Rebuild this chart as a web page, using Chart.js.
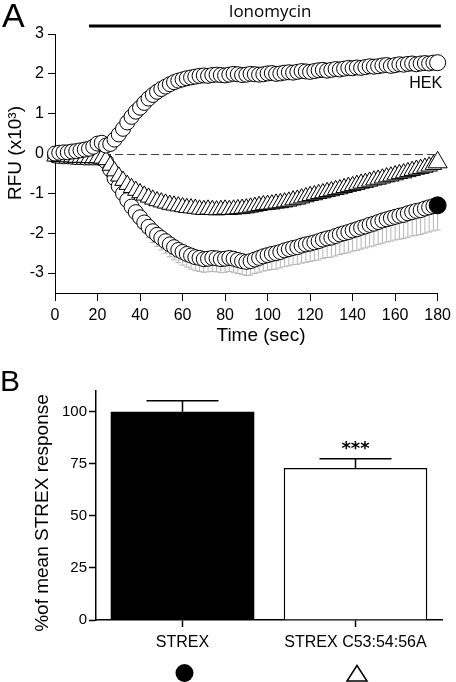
<!DOCTYPE html>
<html><head><meta charset="utf-8">
<script src="https://cdn.jsdelivr.net/npm/chart.js@4.4.1/dist/chart.umd.min.js"></script>
<style>
html,body{margin:0;padding:0;background:#fff;width:456px;height:682px;overflow:hidden;}
#ca{position:absolute;left:0;top:0;}
#cb{position:absolute;left:0;top:360px;}
</style></head><body>
<canvas id="ca" width="456" height="352"></canvas>
<canvas id="cb" width="456" height="322"></canvas>
<script>
// ---------- Panel A data ----------
const times = [0,2,4,6,8,10,12,14,16,18,20,22,24,26,28,30,32,34,36,38,40,42,44,46,48,50,52,54,56,58,60,62,64,66,68,70,72,74,76,78,80,82,84,86,88,90,92,94,96,98,100,102,104,106,108,110,112,114,116,118,120,122,124,126,128,130,132,134,136,138,140,142,144,146,148,150,152,154,156,158,160,162,164,166,168,170,172,174,176,178,180];
const hekValues = [
 0.00,0.02,0.03,0.03,0.05,0.06,0.08,0.10,0.12,0.17,
 0.25,0.27,0.20,0.24,0.35,0.48,0.62,0.78,0.92,1.05,
 1.15,1.27,1.38,1.47,1.55,1.62,1.68,1.74,1.79,1.83,
 1.86,1.89,1.91,1.93,1.95,1.96,1.95,1.97,1.98,1.97,
 1.96,1.98,2.00,1.99,1.97,1.98,2.00,1.99,1.98,1.99,
 2.01,2.02,2.00,2.01,2.03,2.04,2.03,2.05,2.07,2.06,
 2.05,2.07,2.09,2.10,2.08,2.10,2.12,2.11,2.13,2.15,
 2.14,2.16,2.15,2.17,2.19,2.18,2.19,2.21,2.22,2.20,
 2.22,2.24,2.23,2.25,2.26,2.24,2.26,2.27,2.26,2.28,
 2.28];
const hekErr = [
 0.05,0.05,0.05,0.05,0.05,0.05,0.06,0.06,0.06,0.07,
 0.08,0.08,0.09,0.10,0.12,0.14,0.16,0.18,0.19,0.20,
 0.20,0.20,0.20,0.19,0.18,0.17,0.16,0.15,0.14,0.13,
 0.12,0.12,0.11,0.11,0.10,0.10,0.10,0.10,0.10,0.10,
 0.10,0.10,0.11,0.10,0.10,0.10,0.11,0.10,0.10,0.10,
 0.10,0.11,0.10,0.10,0.11,0.10,0.10,0.11,0.10,0.10,
 0.11,0.10,0.10,0.11,0.10,0.10,0.11,0.10,0.10,0.11,
 0.10,0.10,0.11,0.10,0.10,0.11,0.10,0.10,0.11,0.10,
 0.10,0.11,0.10,0.10,0.11,0.10,0.10,0.11,0.10,0.10,
 0.10];
const strexValues = [
 -0.05,-0.06,-0.07,-0.07,-0.08,-0.09,-0.09,-0.10,-0.10,-0.10,
 -0.10,-0.12,-0.20,-0.40,-0.62,-0.82,-1.00,-1.17,-1.33,-1.47,
 -1.60,-1.73,-1.84,-1.95,-2.04,-2.12,-2.20,-2.28,-2.35,-2.42,
 -2.47,-2.52,-2.56,-2.60,-2.62,-2.65,-2.64,-2.62,-2.63,-2.65,
 -2.64,-2.62,-2.64,-2.67,-2.70,-2.72,-2.70,-2.66,-2.62,-2.58,
 -2.55,-2.52,-2.50,-2.47,-2.43,-2.40,-2.37,-2.35,-2.31,-2.28,
 -2.26,-2.23,-2.20,-2.16,-2.13,-2.11,-2.07,-2.03,-2.00,-1.97,
 -1.93,-1.90,-1.86,-1.83,-1.79,-1.76,-1.72,-1.68,-1.65,-1.62,
 -1.59,-1.56,-1.54,-1.50,-1.47,-1.44,-1.42,-1.38,-1.35,-1.32,
 -1.30];
const strexErr = [
 0.05,0.05,0.05,0.05,0.05,0.05,0.05,0.05,0.05,0.05,
 0.06,0.08,0.10,0.12,0.14,0.16,0.18,0.20,0.22,0.24,
 0.25,0.26,0.27,0.28,0.29,0.30,0.30,0.31,0.32,0.32,
 0.33,0.33,0.34,0.34,0.34,0.33,0.33,0.34,0.34,0.34,
 0.34,0.34,0.34,0.34,0.34,0.34,0.35,0.35,0.36,0.37,
 0.38,0.39,0.40,0.40,0.41,0.42,0.42,0.43,0.44,0.45,
 0.45,0.46,0.47,0.47,0.48,0.49,0.50,0.50,0.51,0.52,
 0.52,0.53,0.54,0.54,0.55,0.56,0.56,0.57,0.57,0.58,
 0.58,0.59,0.59,0.60,0.60,0.61,0.61,0.62,0.62,0.62,
 0.62];
const mutValues = [
 -0.07,-0.08,-0.08,-0.09,-0.09,-0.10,-0.10,-0.10,-0.11,-0.11,
 -0.11,-0.12,-0.16,-0.30,-0.44,-0.57,-0.68,-0.78,-0.86,-0.93,
 -0.99,-1.05,-1.10,-1.15,-1.19,-1.22,-1.25,-1.28,-1.30,-1.32,
 -1.34,-1.36,-1.37,-1.38,-1.40,-1.41,-1.40,-1.41,-1.42,-1.41,
 -1.40,-1.41,-1.40,-1.39,-1.38,-1.37,-1.35,-1.33,-1.31,-1.29,
 -1.28,-1.27,-1.25,-1.24,-1.22,-1.20,-1.17,-1.15,-1.12,-1.09,
 -1.06,-1.04,-1.01,-0.99,-0.96,-0.94,-0.91,-0.89,-0.86,-0.83,
 -0.81,-0.78,-0.75,-0.73,-0.70,-0.67,-0.65,-0.62,-0.59,-0.57,
 -0.54,-0.51,-0.49,-0.46,-0.43,-0.40,-0.38,-0.35,-0.32,-0.28,
 -0.22];
const mutErr = [
 0.06,0.07,0.07,0.06,0.07,0.08,0.07,0.07,0.08,0.07,
 0.07,0.07,0.06,0.06,0.06,0.07,0.07,0.08,0.08,0.08,
 0.08,0.09,0.09,0.09,0.09,0.10,0.10,0.10,0.10,0.10,
 0.10,0.11,0.10,0.11,0.10,0.11,0.10,0.11,0.10,0.11,
 0.10,0.11,0.10,0.11,0.10,0.11,0.10,0.11,0.10,0.11,
 0.10,0.11,0.10,0.11,0.10,0.11,0.10,0.11,0.10,0.11,
 0.10,0.11,0.10,0.11,0.10,0.11,0.10,0.11,0.10,0.11,
 0.10,0.11,0.10,0.11,0.10,0.11,0.10,0.11,0.10,0.11,
 0.10,0.11,0.10,0.11,0.10,0.11,0.10,0.11,0.10,0.11,
 0.10];
const xTicksA = [0,20,40,60,80,100,120,140,160,180];
const yTicksA = [-3,-2,-1,0,1,2,3];
const ionomycinStart = 16, ionomycinEnd = 181.5;

// ---------- Panel B data ----------
const barCategories = ['STREX', 'STREX C53:54:56A'];
const barMeans = [100, 73];
const barErrs = [5.3, 4.4];
const yTicksB = [0, 25, 50, 75, 100];

const FONT = "'Liberation Sans', Arial, sans-serif";
Chart.defaults.font.family = FONT;
Chart.defaults.color = '#000';

function pts(vals) { return times.map((t, i) => ({x: t, y: vals[i]})); }
const lastIdx = times.length - 1;
function arr(v, last) { return times.map((_, i) => i === lastIdx ? last : v); }

const panelAPlugin = {
  id: 'panelA',
  beforeDatasetsDraw(chart) {
    const {ctx, chartArea, scales: {x, y}} = chart;
    ctx.save();
    // dashed zero line
    ctx.strokeStyle = '#444'; ctx.lineWidth = 1; ctx.setLineDash([8, 4]);
    const y0 = Math.round(y.getPixelForValue(0)) + 0.5;
    ctx.beginPath(); ctx.moveTo(chartArea.left, y0); ctx.lineTo(chartArea.right, y0); ctx.stroke();
    ctx.setLineDash([]);
    const cap = 3;
    function bar(t, lo, hi, color, capLo, capHi) {
      const px = x.getPixelForValue(t);
      const pl = y.getPixelForValue(lo), ph = y.getPixelForValue(hi);
      ctx.strokeStyle = color;
      ctx.beginPath(); ctx.moveTo(px, pl); ctx.lineTo(px, ph);
      if (capLo) { ctx.moveTo(px - cap, pl); ctx.lineTo(px + cap, pl); }
      if (capHi) { ctx.moveTo(px - cap, ph); ctx.lineTo(px + cap, ph); }
      ctx.stroke();
    }
    ctx.lineWidth = 1;
    times.forEach((t, i) => {
      bar(t, strexValues[i] - strexErr[i], strexValues[i], '#b4b4b4', true, false);
      bar(t, hekValues[i] - hekErr[i], hekValues[i] + hekErr[i], '#b4b4b4', true, true);
      bar(t, mutValues[i] - mutErr[i], mutValues[i], '#222', true, false);
    });
    ctx.restore();
  },
  afterDraw(chart) {
    const {ctx, chartArea, scales: {x, y}} = chart;
    ctx.save();
    ctx.fillStyle = '#000';
    // panel letter
    ctx.font = `34px ${FONT}`; ctx.textAlign = 'left'; ctx.textBaseline = 'alphabetic';
    ctx.fillText('A', 2, 27);
    // Ionomycin bar
    ctx.fillRect(x.getPixelForValue(ionomycinStart), 24.5, x.getPixelForValue(ionomycinEnd) - x.getPixelForValue(ionomycinStart), 3);
    ctx.font = `17px 'Open Sans', ${FONT}`; ctx.textAlign = 'center'; ctx.textBaseline = 'middle';
    ctx.fillText('Ionomycin', 270, 12);
    // HEK label
    ctx.font = `16px ${FONT}`;
    ctx.fillText('HEK', x.getPixelForValue(180) - 12, y.getPixelForValue(hekValues[lastIdx]) + 21);
    // axis titles
    ctx.font = `19px ${FONT}`;
    ctx.fillText('Time (sec)', 261, 336);
    ctx.translate(16, 153); ctx.rotate(-Math.PI / 2);
    ctx.fillText('RFU (x10³)', 0, 0);
    ctx.restore();
  }
};

new Chart(document.getElementById('ca'), {
  type: 'scatter',
  data: {
    datasets: [
      { label: 'HEK', data: pts(hekValues), pointStyle: 'circle',
        pointRadius: arr(7.5, 8), pointBackgroundColor: '#fff', pointBorderColor: '#000', pointBorderWidth: 1, clip: false },
      { label: 'STREX C53:54:56A', data: pts(mutValues), pointStyle: 'triangle',
        pointRadius: arr(9.5, 11), pointBackgroundColor: '#fff', pointBorderColor: '#000', pointBorderWidth: 1, clip: false },
      { label: 'STREX', data: pts(strexValues), pointStyle: 'circle',
        pointRadius: arr(7.5, 8.5), pointBackgroundColor: arr('#fff', '#000'), pointBorderColor: '#000', pointBorderWidth: 1, clip: false }
    ]
  },
  options: {
    responsive: false, animation: false,
    layout: { padding: { top: 34, right: 13, left: 0, bottom: 0 } },
    plugins: { legend: { display: false }, tooltip: { enabled: false } },
    scales: {
      x: { type: 'linear', min: 0, max: 180,
        afterBuildTicks: s => { s.ticks = xTicksA.map(v => ({value: v})); },
        afterFit: s => { s.height = 59; },
        ticks: { font: { size: 16 }, padding: 5, maxRotation: 0, autoSkip: false },
        grid: { display: true, drawOnChartArea: false, drawTicks: true, tickLength: 8, tickColor: '#000', tickWidth: 1 },
        border: { display: true, color: '#000', width: 1 } },
      y: { type: 'linear', min: -3.5, max: 3,
        afterBuildTicks: s => { s.ticks = yTicksA.map(v => ({value: v})); },
        afterFit: s => { s.width = 55; },
        ticks: { font: { size: 16 }, padding: 4 },
        grid: { display: true, drawOnChartArea: false, drawTicks: true, tickLength: 7, tickColor: '#000', tickWidth: 1 },
        border: { display: true, color: '#000', width: 1 } }
    }
  },
  plugins: [panelAPlugin]
});

const panelBPlugin = {
  id: 'panelB',
  afterDatasetsDraw(chart) {
    const {ctx, scales: {x, y}} = chart;
    ctx.save();
    ctx.strokeStyle = '#000'; ctx.lineWidth = 1.5;
    barMeans.forEach((m, i) => {
      const px = x.getPixelForValue(i);
      const pt = y.getPixelForValue(m), pe = y.getPixelForValue(m + barErrs[i]);
      ctx.beginPath(); ctx.moveTo(px, pt); ctx.lineTo(px, pe);
      ctx.moveTo(px - 36, pe); ctx.lineTo(px + 36, pe); ctx.stroke();
    });
    // significance stars
    ctx.fillStyle = '#000';
    ctx.font = `bold 18px 'DejaVu Sans', ${FONT}`; ctx.textAlign = 'center'; ctx.textBaseline = 'alphabetic';
    ctx.fillText('***', x.getPixelForValue(1), y.getPixelForValue(barMeans[1] + barErrs[1]) - 5);
    ctx.restore();
  },
  afterDraw(chart) {
    const {ctx, scales: {x}} = chart;
    ctx.save();
    ctx.fillStyle = '#000';
    ctx.font = `30px ${FONT}`; ctx.textAlign = 'left'; ctx.textBaseline = 'alphabetic';
    ctx.fillText('B', 0, 31);
    // y title
    ctx.font = `19px ${FONT}`; ctx.textAlign = 'center'; ctx.textBaseline = 'middle';
    ctx.save(); ctx.translate(43, 153); ctx.rotate(-Math.PI / 2);
    ctx.fillText('%of mean STREX response', 0, 0); ctx.restore();
    // symbols under categories
    const cx0 = x.getPixelForValue(0) + 2;
    ctx.beginPath(); ctx.arc(cx0, 313, 9, 0, Math.PI * 2); ctx.fill();
    const cx1 = x.getPixelForValue(1) + 1.5;
    ctx.strokeStyle = '#000'; ctx.lineWidth = 1.5;
    ctx.beginPath(); ctx.moveTo(cx1, 305.5); ctx.lineTo(cx1 + 10, 321); ctx.lineTo(cx1 - 10, 321); ctx.closePath(); ctx.stroke();
    ctx.restore();
  }
};

new Chart(document.getElementById('cb'), {
  type: 'bar',
  data: {
    labels: barCategories,
    datasets: [{ data: barMeans, backgroundColor: ['#000', '#fff'], borderColor: '#000',
      borderWidth: [0, 1.5], borderSkipped: 'bottom', barPercentage: 0.83, categoryPercentage: 1.0 }]
  },
  options: {
    responsive: false, animation: false,
    layout: { padding: { top: 31, right: 14, left: 0, bottom: 0 } },
    plugins: { legend: { display: false }, tooltip: { enabled: false } },
    scales: {
      x: { afterFit: s => { s.height = 62; },
        ticks: { font: { size: 16 }, padding: 6, maxRotation: 0, autoSkip: false },
        grid: { display: true, offset: false, drawOnChartArea: false, drawTicks: true, tickLength: 7, tickColor: '#000', tickWidth: 1.5 },
        border: { display: true, color: '#000', width: 1.5 } },
      y: { min: 0, max: 110,
        afterBuildTicks: s => { s.ticks = yTicksB.map(v => ({value: v})); },
        afterFit: s => { s.width = 96; },
        ticks: { font: { size: 15 }, padding: 2 },
        grid: { display: true, drawOnChartArea: false, drawTicks: true, tickLength: 7, tickColor: '#000', tickWidth: 1.5 },
        border: { display: true, color: '#000', width: 1.5 } }
    }
  },
  plugins: [panelBPlugin]
});
</script>
</body></html>
